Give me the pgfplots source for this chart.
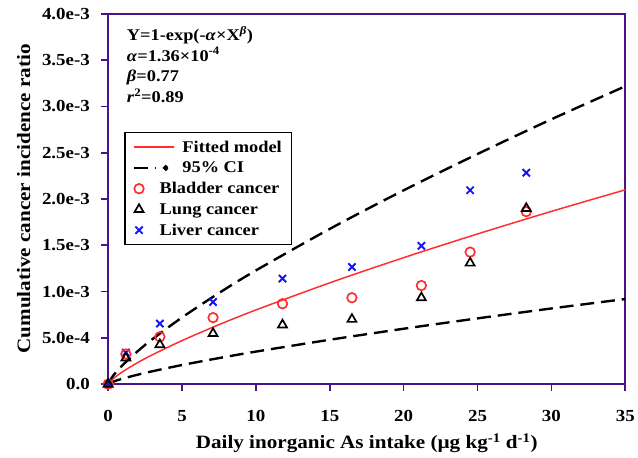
\documentclass[border=0pt]{standalone}
\usepackage{fontspec}
\setmainfont[FakeStretch=1.12]{Liberation Serif}
\usepackage{pgfplots}
\pgfplotsset{compat=1.18}

\definecolor{frame}{RGB}{72,20,140}
\definecolor{fitred}{RGB}{255,45,45}
\definecolor{liverblue}{RGB}{20,20,255}

\pgfplotsset{
    lineleg/.style={legend image code/.code={\draw[##1] (0pt,0pt) -- (40pt,0pt);}},
    cileg/.style={legend image code/.code={\draw[black,line width=2.4pt] (0pt,0pt) -- (22pt,0pt); \fill[black] (32pt,0pt) circle (1.6pt);}},
    markleg/.style={legend image code/.code={\draw[##1] plot coordinates {(5pt,0pt)};}},
}

\begin{document}
\begin{tikzpicture}
\begin{axis}[
    at={(0pt,0pt)}, anchor=south west,
    scale only axis,
    width=521pt, height=373pt,
    xmin=0, xmax=35, ymin=0, ymax=0.004,
    xtick={0,5,...,35},
    xticklabels={0,5,10,15,20,25,30,35},
    ytick={0,0.0005,0.001,0.0015,0.002,0.0025,0.003,0.0035,0.004},
    yticklabels={0.0,5.0e-4,1.0e-3,1.5e-3,2.0e-3,2.5e-3,3.0e-3,3.5e-3,4.0e-3},
    scaled ticks=false,
    /pgf/number format/assume math mode=true,
    tick align=outside,
    xtick pos=bottom, ytick pos=left,
    major tick length=7pt,
    axis line style={frame, line width=1.8pt},
    every tick/.style={frame, line width=1.6pt},
    tick label style={font=\fontsize{17}{20}\selectfont\bfseries},
    xticklabel style={yshift=-16pt},
    yticklabel style={xshift=-8pt},
    xlabel={Daily inorganic As intake (µg kg\textsuperscript{-1} d\textsuperscript{-1})},
    ylabel={Cumulative cancer incidence ratio},
    label style={font=\fontsize{19}{22}\selectfont\bfseries},
    xlabel style={yshift=-5pt},
    ylabel style={yshift=5pt},
    clip=false,
    legend cell align=left,
    legend style={
        at={(0.031,0.681)}, anchor=north west,
        draw=black, line width=1.5pt,
        font=\fontsize{16.5}{19}\selectfont\bfseries,
        inner xsep=8pt, inner ysep=6pt,
        row sep=4.25pt,
        /tikz/every odd column/.append style={column sep=6pt},
    },
]
% fitted model Y = 1-exp(-a X^b), values tabulated
\addplot[fitred, line width=1.5pt, smooth, lineleg]
    coordinates {
    (0,0) (0.25,0.0000468) (0.5,0.0000797) (1,0.000136) (2,0.000232)
    (3,0.000317) (5,0.000470) (7.5,0.000642) (10,0.000801) (15,0.001094)
    (20,0.001366) (25,0.001622) (30,0.001866) (35,0.002099)
    };
\addlegendentry{Fitted model}
% upper 95% CI
\addplot[black, line width=2.4pt, dash pattern=on 14pt off 7pt, smooth, cileg]
    coordinates {
    (0,0) (0.25,0.0000717) (0.5,0.0001222) (1,0.0002085) (2,0.0003556)
    (3,0.000486) (5,0.000720) (7.5,0.000984) (10,0.001228) (15,0.001677)
    (20,0.002094) (25,0.002486) (30,0.002861) (35,0.003218)
    };
\addlegendentry{95\% CI}
% lower 95% CI
\addplot[black, line width=2.4pt, dash pattern=on 14pt off 7pt, smooth, forget plot]
    coordinates {
    (0,0) (0.25,0.0000205) (0.5,0.0000349) (1,0.0000596) (2,0.0001016)
    (3,0.0001389) (5,0.000206) (7.5,0.000281) (10,0.000351) (15,0.000479)
    (20,0.000598) (25,0.000710) (30,0.000817) (35,0.000919)
    };
% liver
\addplot[only marks, mark=x, mark size=5.2pt, liverblue, line width=1.9pt, markleg, forget plot]
    coordinates {
    (0,0) (1.2,0.000340) (3.5,0.000654) (7.1,0.000887) (11.8,0.001140)
    (16.5,0.001265) (21.2,0.001494) (24.5,0.002094) (28.3,0.002284)
    };
% bladder
\addplot[only marks, mark=o, mark size=4.8pt, fitred, line width=1.7pt, markleg]
    coordinates {
    (0,0) (1.2,0.000325) (3.5,0.000511) (7.1,0.000718) (11.8,0.000868)
    (16.5,0.000933) (21.2,0.001065) (24.5,0.001426) (28.3,0.001863)
    };
\addlegendentry{\hspace{-23pt}Bladder cancer}
% lung
\addplot[only marks, mark=triangle, mark size=5.2pt, black, line width=1.7pt, markleg]
    coordinates {
    (0,0) (1.2,0.000282) (3.5,0.000426) (7.1,0.000547) (11.8,0.000640)
    (16.5,0.000700) (21.2,0.000933) (24.5,0.001308) (28.3,0.001898)
    };
\addlegendentry{\hspace{-23pt}Lung cancer}
% liver legend entry
\addlegendimage{only marks, mark=x, mark size=5.2pt, liverblue, line width=1.9pt, markleg}
\addlegendentry{\hspace{-23pt}Liver cancer}
\node[anchor=north west, align=left, inner sep=0pt,
    font=\fontsize{16.5}{21}\selectfont\bfseries]
    at (rel axis cs:0.036,0.968)
    {Y=1-exp(-\textit{α}×X\textsuperscript{\textit{β}})\\
     \textit{α}=1.36×10\textsuperscript{-4}\\
     \textit{β}=0.77\\
     \textit{r}\textsuperscript{2}=0.89};
\end{axis}
\useasboundingbox (-109pt,-74pt) rectangle (529pt,387pt);
\end{tikzpicture}
\end{document}
